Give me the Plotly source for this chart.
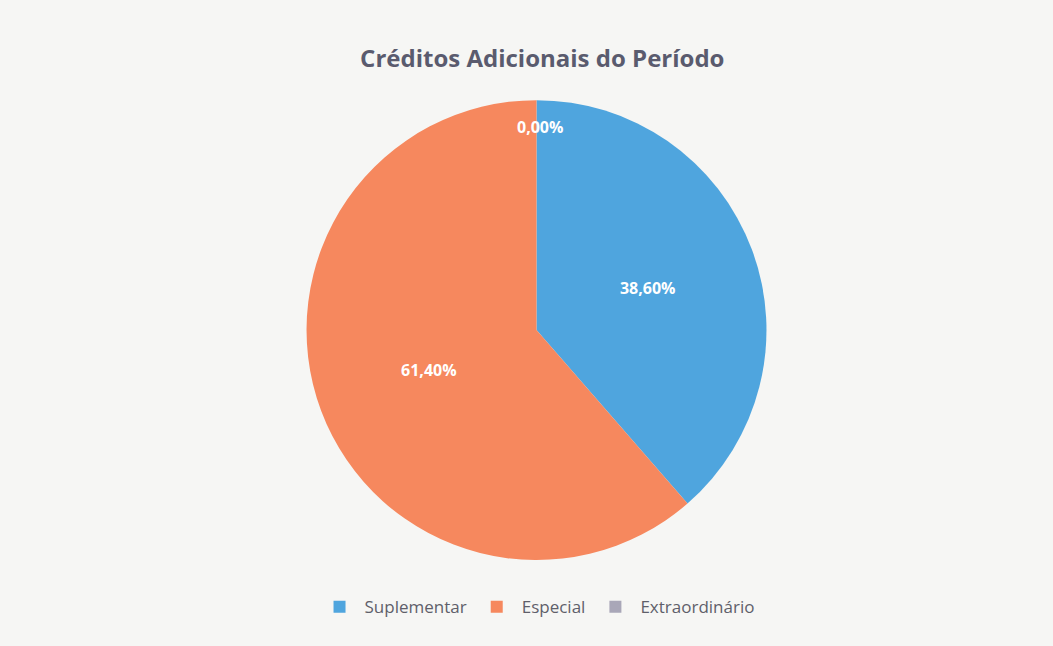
import plotly.graph_objects as go

labels = ["Suplementar", "Especial", "Extraordinário"]
values = [38.60, 61.40, 0.00]
colors = ["#4FA5DE", "#F6885E", "#A9A7B8"]

# percent labels in pt-BR format (comma decimal)
total = sum(values)
pct_text = [f"{v / total * 100:.2f}%".replace(".", ",") for v in values]

fig = go.Figure(go.Pie(
    labels=labels,
    values=values,
    text=pct_text,
    texttemplate="<b>%{text}</b>",
    textposition="inside",
    insidetextorientation="horizontal",
    textfont=dict(family="Open Sans", size=16, color="white"),
    marker=dict(colors=colors, line=dict(width=0)),
    sort=False,
    direction="clockwise",
    rotation=0,
    domain=dict(x=[0.291, 0.728], y=[0.133, 0.845]),
    hoverinfo="label+percent",
))

# zero slice gets no inside text from plotly, so put its label at the top
fig.add_annotation(text=f"<b>{pct_text[2]}</b>", x=0.513, y=0.803,
                   xref="paper", yref="paper", xanchor="center", yanchor="middle",
                   showarrow=False,
                   font=dict(family="Open Sans", size=16, color="white"))

fig.update_layout(
    width=1053, height=646,
    margin=dict(l=0, r=0, t=0, b=0),
    paper_bgcolor="#F6F6F4",
    plot_bgcolor="#F6F6F4",
    title=dict(text="<b>Créditos Adicionais do Período</b>",
               x=0.515, xanchor="center", y=0.91, yanchor="middle",
               font=dict(family="Open Sans", size=24, color="#5A5B6E")),
    legend=dict(orientation="h", x=0.51, xanchor="center", y=0.06, yanchor="middle",
                font=dict(family="Open Sans", size=17, color="#5F5F6A"),
                bgcolor="rgba(0,0,0,0)", traceorder="normal", itemwidth=40),
)

fig.write_html("out.html", config={"displayModeBar": False},
               post_script="document.body.style.margin='0';")
